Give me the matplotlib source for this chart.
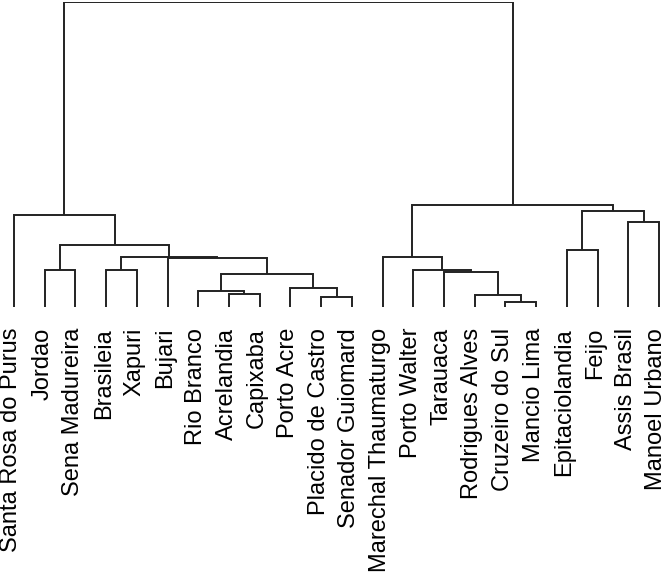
import matplotlib
matplotlib.use("Agg")
import matplotlib.pyplot as plt

plt.rcParams['font.family'] = ['Liberation Sans', 'DejaVu Sans']

# leaves in display order
labels = ["Santa Rosa do Purus", "Jordao", "Sena Madureira", "Brasileia", "Xapuri",
          "Bujari", "Rio Branco", "Acrelandia", "Capixaba", "Porto Acre",
          "Placido de Castro", "Senador Guiomard", "Marechal Thaumaturgo",
          "Porto Walter", "Tarauaca", "Rodrigues Alves", "Cruzeiro do Sul",
          "Mancio Lima", "Epitaciolandia", "Feijo", "Assis Brasil", "Manoel Urbano"]

# merges, scipy style: ids < 22 are leaves, merge k makes cluster 22 + k
merge_left = [16, 10, 15, 7, 6, 9, 26, 14, 13, 1, 3, 5, 32, 12, 18, 31, 20, 0, 36, 35, 39]
merge_right = [17, 11, 22, 8, 25, 23, 27, 24, 29, 2, 4, 28, 33, 30, 19, 34, 21, 37, 38, 40, 41]
merge_height = [5.3, 10.0, 11.7, 13.0, 15.7, 18.7, 33.3, 35.0, 36.7, 37.0, 37.0,
                49.0, 50.3, 50.3, 56.7, 62.0, 85.3, 91.7, 96.3, 102.3, 305.0]

n = len(labels)

fig = plt.figure(figsize=(6.68, 5.86), dpi=100)
ax = fig.add_axes([0, (586 - 307) / 586, 1, 305 / 586])

pos = {i: (float(i), 0.0) for i in range(n)}
for k, (a, b, h) in enumerate(zip(merge_left, merge_right, merge_height)):
    xa, ha = pos[a]
    xb, hb = pos[b]
    ax.plot([xa, xa, xb, xb], [ha, h, h, hb], color='#222222', lw=1.4,
            solid_joinstyle='miter', solid_capstyle='butt')
    pos[n + k] = ((xa + xb) / 2, h)

for i, name in enumerate(labels):
    ax.annotate(name, xy=(i, 0), xytext=(-1.8, -15), textcoords='offset points',
                rotation=90, ha='center', va='top', fontsize=17)

step = 645 / 21
ax.set_xlim(-14 / step, 21 + 9 / step)
ax.set_ylim(0, 305)
ax.axis('off')

fig.savefig("out.png", dpi=100)
